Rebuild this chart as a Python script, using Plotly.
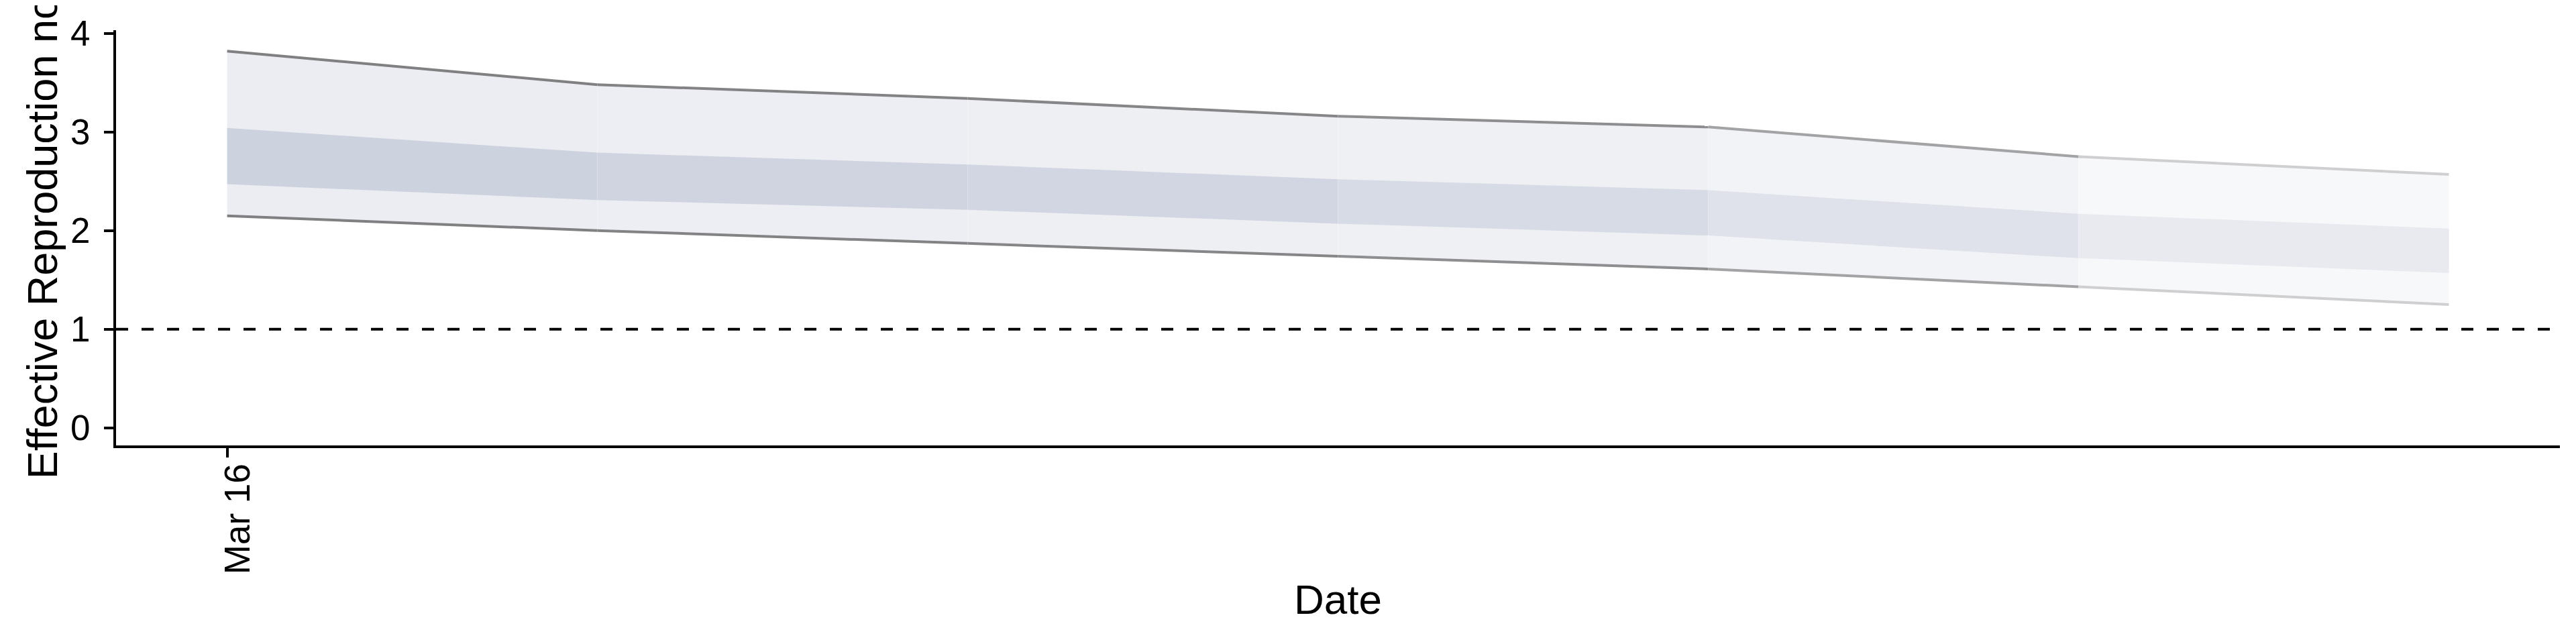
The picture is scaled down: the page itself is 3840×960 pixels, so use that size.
import plotly.graph_objects as go

# ---- data ----
dates = ["2020-03-16", "2020-03-17", "2020-03-18", "2020-03-19",
         "2020-03-20", "2020-03-21", "2020-03-22"]
upper_90 = [3.82, 3.48, 3.34, 3.16, 3.05, 2.75, 2.57]
upper_50 = [3.04, 2.79, 2.67, 2.52, 2.41, 2.17, 2.02]
lower_50 = [2.47, 2.31, 2.21, 2.07, 1.95, 1.72, 1.57]
lower_90 = [2.15, 2.00, 1.87, 1.74, 1.61, 1.43, 1.25]
x_tick_vals = ["2020-03-16"]
x_tick_text = ["Mar 16"]
y_tick_vals = [0, 1, 2, 3, 4]
threshold = 1

# ---- per-segment styling (fading towards the most recent dates) ----
outer_fill = ["#ecedf2", "#edeef3", "#eeeff3", "#eff0f4", "#f2f3f6", "#f7f8fa"]
inner_fill = ["#cdd2df", "#cfd4e0", "#d1d6e2", "#d6dbe5", "#dfe2ea", "#e9eaf0"]
edge_color = ["#808083", "#838386", "#868688", "#8e8e90", "#a3a3a5", "#cfcfd1"]

FONT = "Liberation Sans, Arial, Helvetica, sans-serif"

fig = go.Figure()

n = len(dates)
for i in range(n - 1):
    xs = [dates[i], dates[i + 1], dates[i + 1], dates[i], dates[i]]
    # outer (90%) ribbon
    fig.add_trace(go.Scatter(
        x=xs, y=[upper_90[i], upper_90[i + 1], lower_90[i + 1], lower_90[i], upper_90[i]],
        fill="toself", fillcolor=outer_fill[i], mode="lines",
        line=dict(width=0, color=outer_fill[i]), hoverinfo="skip", showlegend=False))
    # inner (50%) ribbon
    fig.add_trace(go.Scatter(
        x=xs, y=[upper_50[i], upper_50[i + 1], lower_50[i + 1], lower_50[i], upper_50[i]],
        fill="toself", fillcolor=inner_fill[i], mode="lines",
        line=dict(width=0, color=inner_fill[i]), hoverinfo="skip", showlegend=False))

for i in range(n - 1):
    for series in (upper_90, lower_90):
        fig.add_trace(go.Scatter(
            x=[dates[i], dates[i + 1]], y=[series[i], series[i + 1]],
            mode="lines", line=dict(width=4, color=edge_color[i]),
            hoverinfo="skip", showlegend=False))

fig.add_shape(type="line", xref="paper", x0=0, x1=1, yref="y", y0=threshold, y1=threshold,
              line=dict(color="black", width=4, dash="18px,20px"), layer="above")

fig.add_annotation(
    text="Effective Reproduction no.", textangle=-90,
    xref="paper", yref="paper", x=-0.0302, y=-0.0845,
    xanchor="center", yanchor="bottom", showarrow=False,
    font=dict(family=FONT, size=63, color="black"))

fig.update_layout(
    width=3840, height=960,
    margin=dict(l=165, r=32, t=29, b=304),
    paper_bgcolor="white", plot_bgcolor="white",
    font=dict(family=FONT, color="black"),
    showlegend=False,
    xaxis=dict(
        type="date", range=["2020-03-15 16:48", "2020-03-22 07:12"],
        tickvals=x_tick_vals, ticktext=x_tick_text, tickangle=-90,
        ticks="outside", ticklen=14, tickwidth=4, tickcolor="black",
        showline=True, linecolor="black", linewidth=4,
        showgrid=False, zeroline=False,
        tickfont=dict(family=FONT, size=53, color="black"),
        ticklabelshift=16, ticklabelstandoff=-12,
        title=dict(text="Date", font=dict(family=FONT, size=62, color="black"), standoff=17),
    ),
    yaxis=dict(
        range=[-0.179, 4.032],
        tickvals=y_tick_vals,
        ticks="outside", ticklen=14, tickwidth=4, tickcolor="black",
        showline=True, linecolor="black", linewidth=4,
        showgrid=False, zeroline=False,
        tickfont=dict(family=FONT, size=53, color="black"),
        ticklabelstandoff=10, ticklabeloverflow="allow",
    ),
)

fig.write_html("out.html")
